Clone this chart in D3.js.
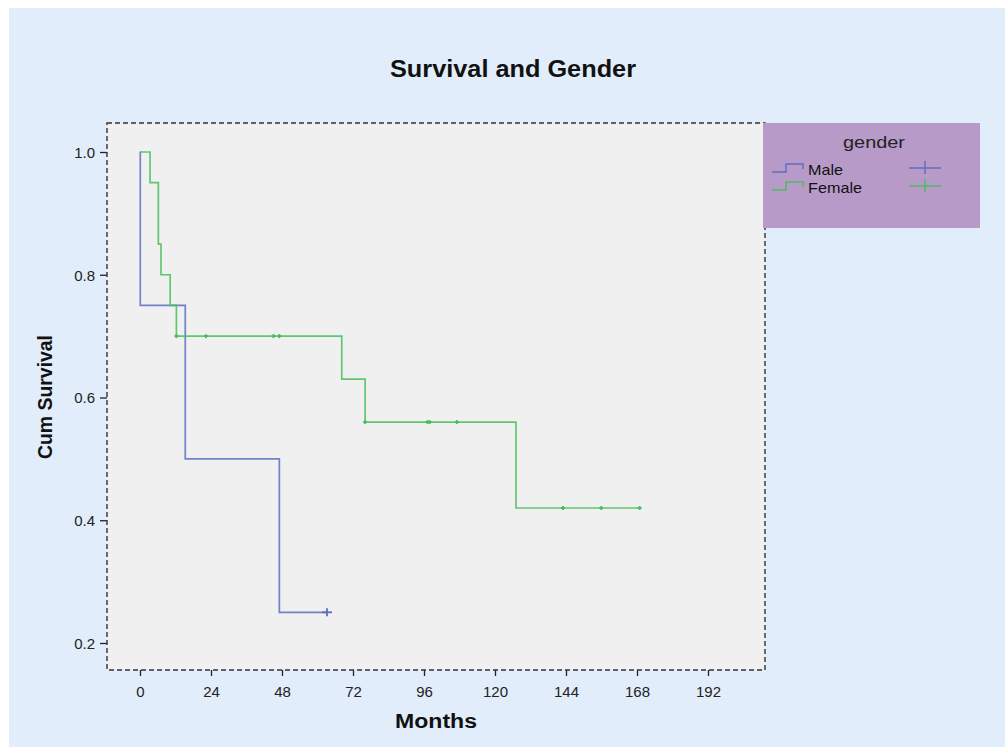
<!DOCTYPE html>
<html><head><meta charset="utf-8">
<script src="https://cdn.jsdelivr.net/npm/d3@7"></script>
<style>html,body{margin:0;padding:0;background:#fff;}svg{display:block;font-family:"Liberation Sans",Arial,sans-serif;}</style>
</head><body><svg id="c" width="1005" height="747"></svg>
<script>
// ---- data ----
const seriesNames = ["Male", "Female"];
const maleEventTimes = [0.1, 15.3, 47.1];
const maleSurvival = [0.75, 0.50, 0.25];
const maleCensored = [63.2];
const femaleEventTimes = [3.4, 6.2, 7.1, 10.2, 12.3, 68.2, 76.1, 127.1];
const femaleSurvival = [0.95, 0.85, 0.80, 0.75, 0.70, 0.63, 0.56, 0.42];
const femaleCensored = [12.3, 22.3, 45.1, 47.1, 76.1, 97.2, 97.9, 107.1, 143.0, 155.9, 168.9];
const xTicks = [0, 24, 48, 72, 96, 120, 144, 168, 192];
const yTicks = [0.2, 0.4, 0.6, 0.8, 1.0];
const colors = ["#5a6ec2", "#48be5b"];

const svg = d3.select("#c");
svg.append("rect").attr("x", 9).attr("y", 8).attr("width", 996).attr("height", 739).attr("fill", "#e1edfa");

const L = 107, R = 765, T = 123, B = 670;
const x = d3.scaleLinear().domain([0, 192]).range([140, 708]);
const y = d3.scaleLinear().domain([0.2, 1.0]).range([643, 152]);

svg.append("rect").attr("x", L).attr("y", T).attr("width", R - L).attr("height", B - T).attr("fill", "#f0f0f0");

// title
svg.append("text").attr("x", 513).attr("y", 77).attr("text-anchor", "middle")
  .attr("font-size", 23).attr("font-weight", "bold").attr("fill", "#111")
  .attr("textLength", 246).attr("lengthAdjust", "spacingAndGlyphs").text("Survival and Gender");

// axes
const xAxis = d3.axisBottom(x).tickValues(xTicks).tickSize(6).tickSizeOuter(0).tickFormat(d3.format("d"));
const gx = svg.append("g").attr("transform", `translate(0,${B})`).call(xAxis);
gx.select(".domain").remove();
gx.selectAll("line").attr("stroke", "#222").attr("stroke-width", 1.3);
gx.selectAll("text").attr("font-size", 15).attr("fill", "#222").attr("y", 27).attr("dy", null)
  .attr("font-family", "Liberation Sans, Arial, sans-serif");

const yAxis = d3.axisLeft(y).tickValues(yTicks).tickSize(7).tickSizeOuter(0).tickFormat(d3.format(".1f"));
const gy = svg.append("g").attr("transform", `translate(${L},0)`).call(yAxis);
gy.select(".domain").remove();
gy.selectAll("line").attr("stroke", "#222").attr("stroke-width", 1.3);
gy.selectAll("text").attr("font-size", 15).attr("fill", "#222").attr("x", -12).attr("dy", "0.36em")
  .attr("font-family", "Liberation Sans, Arial, sans-serif");

// dashed frame
svg.append("rect").attr("x", L).attr("y", T).attr("width", R - L).attr("height", B - T)
  .attr("fill", "none").attr("stroke", "#333").attr("stroke-width", 1.4).attr("stroke-dasharray", "5,3");

// axis titles
svg.append("text").attr("x", 436).attr("y", 728).attr("text-anchor", "middle")
  .attr("font-size", 20).attr("font-weight", "bold").attr("fill", "#111")
  .attr("textLength", 82).attr("lengthAdjust", "spacingAndGlyphs").text("Months");
svg.append("text").attr("transform", "translate(52,397) rotate(-90)").attr("text-anchor", "middle")
  .attr("font-size", 21).attr("font-weight", "bold").attr("fill", "#111")
  .attr("textLength", 124).attr("lengthAdjust", "spacingAndGlyphs").text("Cum Survival");

// step curves
function stepPoints(times, surv, lastT) {
  const pts = [[0, 1.0]];
  let s = 1.0;
  times.forEach((t, i) => { pts.push([t, s]); s = surv[i]; pts.push([t, s]); });
  pts.push([lastT, s]);
  return pts;
}
function survAt(times, surv, t) {
  let s = 1.0;
  times.forEach((tt, i) => { if (tt <= t) s = surv[i]; });
  return s;
}
const line = d3.line().x(d => x(d[0])).y(d => y(d[1]));
const series = [
  { ev: maleEventTimes, sv: maleSurvival, cen: maleCensored, w: 10, h: 8 },
  { ev: femaleEventTimes, sv: femaleSurvival, cen: femaleCensored, w: 4, h: 4 }
];
series.forEach((s, i) => {
  const lastT = d3.max(s.cen.concat(s.ev));
  svg.append("path").attr("d", line(stepPoints(s.ev, s.sv, lastT)))
    .attr("fill", "none").attr("stroke", colors[i]).attr("stroke-width", 1.7).attr("stroke-opacity", 0.85);
  const g = svg.append("g");
  s.cen.forEach(t => {
    const cx = x(t), cy = y(survAt(s.ev, s.sv, t));
    g.append("line").attr("x1", cx).attr("x2", cx).attr("y1", cy - s.h / 2).attr("y2", cy + s.h / 2)
      .attr("stroke", colors[i]).attr("stroke-width", 1.8);
    g.append("line").attr("x1", cx - s.w / 2).attr("x2", cx + s.w / 2).attr("y1", cy).attr("y2", cy)
      .attr("stroke", colors[i]).attr("stroke-width", 1.8);
  });
});

// legend
svg.append("rect").attr("x", 763).attr("y", 123).attr("width", 217).attr("height", 105).attr("fill", "#b89ac9");
svg.append("text").attr("x", 874).attr("y", 148).attr("text-anchor", "middle").attr("font-size", 17).attr("fill", "#222")
  .attr("textLength", 62).attr("lengthAdjust", "spacingAndGlyphs").text("gender");
const legLens = [35, 54];
seriesNames.forEach((n, i) => {
  const base = 172 + i * 18;
  svg.append("path").attr("d", `M772,${base}H786V${base - 8}H803V${base - 3}`)
    .attr("fill", "none").attr("stroke", colors[i]).attr("stroke-width", 1.4);
  svg.append("text").attr("x", 808).attr("y", base + 3).attr("font-size", 15).attr("fill", "#111")
    .attr("textLength", legLens[i]).attr("lengthAdjust", "spacingAndGlyphs").text(n);
  svg.append("line").attr("x1", 909).attr("x2", 941).attr("y1", base - 4).attr("y2", base - 4).attr("stroke", colors[i]).attr("stroke-width", 1.4);
  svg.append("line").attr("x1", 925).attr("x2", 925).attr("y1", base - 11).attr("y2", base + 2).attr("stroke", colors[i]).attr("stroke-width", 1.4);
});
</script></body></html>
